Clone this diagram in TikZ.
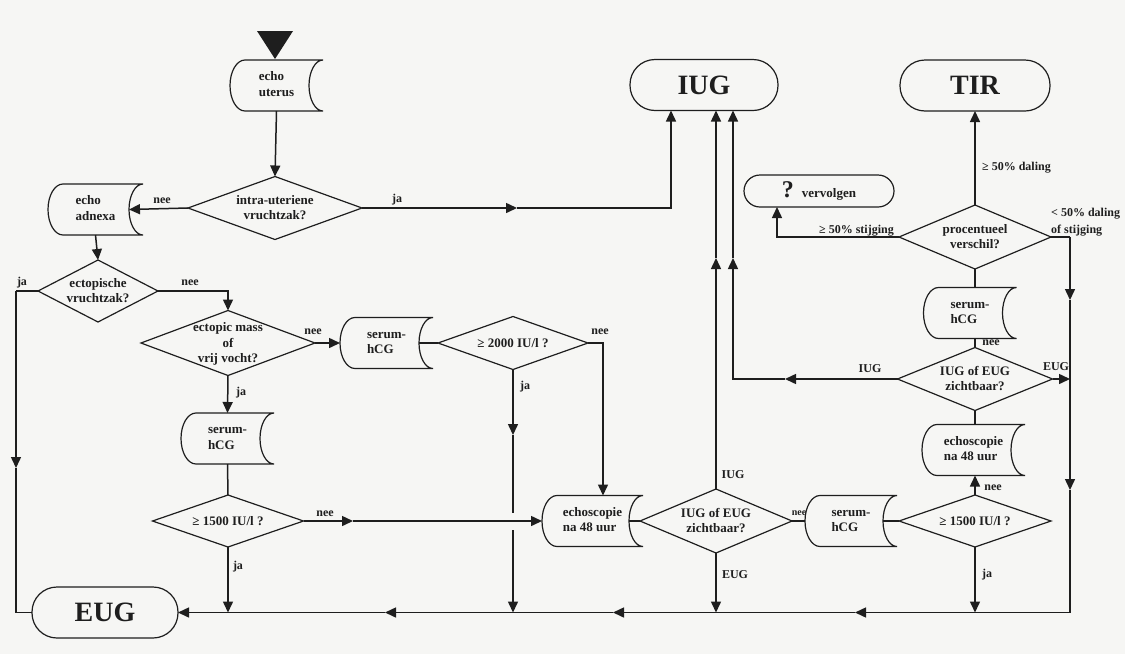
\documentclass[tikz,border=0pt]{standalone}
\usepackage{fontspec}
\setmainfont{Liberation Serif}
\usetikzlibrary{arrows.meta,calc,shapes.geometric}
\definecolor{paper}{RGB}{246,246,244}
\definecolor{ink}{RGB}{30,30,30}
\newcommand\stext[1]{\begin{tabular}{@{}l@{}}#1\end{tabular}\hspace{14pt}}
\newcommand\dtext[1]{\raisebox{-0.3em}[0pt][0pt]{\makebox[0pt]{\begin{tabular}{@{}c@{}}#1\end{tabular}}}}
\newcommand\storeline[1]{\draw[boxline] ([xshift=15pt]#1.north west) arc[start angle=90,end angle=270,x radius=15pt,y radius=25.5pt] -- (#1.south east) arc[start angle=270,end angle=90,x radius=14pt,y radius=25.5pt] -- cycle;}
\tikzset{
  every node/.style={font=\bfseries\fontsize{13}{15.5}\selectfont, text=ink},
  line/.style={line width=1.5pt, draw=ink},
  arr/.style={line, -{Triangle[length=11pt,width=10pt]}},
  boxline/.style={line width=1.2pt, draw=ink},
  store/.style={minimum width=93pt, minimum height=51pt, inner sep=0pt, outer sep=0pt},
  dia/.style={diamond, draw=ink, line width=1.2pt, inner sep=0pt, outer sep=0pt},
  term/.style={draw=ink, line width=1.2pt, rounded corners=25pt, minimum width=148pt, minimum height=51pt, inner sep=0pt, outer sep=0pt, font=\bfseries\fontsize{28}{30}\selectfont},
  lbl/.style={font=\bfseries\fontsize{12}{14}\selectfont, inner sep=0pt}
}
\begin{document}
\begin{tikzpicture}[x=1pt,y=-1pt]
\useasboundingbox (0,0) rectangle (1125,654);
\fill[paper] (0,0) rectangle (1125,654);
% terminals
\node[term] (IUG) at (704,85) {IUG};
\node[term,minimum width=150pt] (TIR) at (975,85.5) {TIR};
\node[term,minimum width=146pt] (EUG) at (105,612.5) {EUG};
\node[term,minimum width=150pt,minimum height=32pt,rounded corners=16pt,font=\bfseries\fontsize{13}{15}\selectfont] (verv) at (819,191) {{\fontsize{24}{24}\selectfont ?}\hspace{8pt}vervolgen};
% store boxes
\node[store] (eu) at (276.5,85.5) {\stext{echo\\uterus}};
\node[store,minimum width=95pt] (ea) at (95.5,209.5) {\stext{echo\\adnexa}};
\node[store] (s1) at (386.5,343) {\stext{serum-\\hCG}};
\node[store] (s2) at (227.5,438.5) {\stext{serum-\\hCG}};
\node[store,minimum width=101pt] (ec1) at (592.5,521) {\stext{echoscopie\\na 48 uur}};
\node[store,minimum width=92pt] (s3) at (851,521) {\stext{serum-\\hCG}};
\node[store,minimum width=103pt] (ec2) at (973.5,450) {\stext{echoscopie\\na 48 uur}};
\node[store] (s4) at (970,313) {\stext{serum-\\hCG}};
\foreach \n in {eu,ea,s1,s2,ec1,s3,ec2,s4}{\storeline{\n}}
% diamonds
\node[dia,minimum width=174pt,minimum height=63pt] (d1) at (275,208) {\dtext{intra-uteriene\\vruchtzak?}};
\node[dia,minimum width=120pt,minimum height=62pt] (d2) at (98,291) {\dtext{ectopische\\vruchtzak?}};
\node[dia,minimum width=174pt,minimum height=65pt] (d3) at (228,343) {\dtext{ectopic mass\\of\\vrij vocht?}};
\node[dia,minimum width=150pt,minimum height=53pt] (d4) at (513,343) {\dtext{≥ 2000 IU/l ?}};
\node[dia,minimum width=151pt,minimum height=52pt] (d5) at (228,521) {\dtext{≥ 1500 IU/l ?}};
\node[dia,minimum width=152pt,minimum height=64pt] (d6) at (716,521) {\dtext{IUG of EUG\\zichtbaar?}};
\node[dia,minimum width=152pt,minimum height=52pt] (d7) at (975,521) {\dtext{≥ 1500 IU/l ?}};
\node[dia,minimum width=155pt,minimum height=63pt] (d8) at (975,379) {\dtext{IUG of EUG\\zichtbaar?}};
\node[dia,minimum width=152pt,minimum height=64pt] (d9) at (975,237) {\dtext{procentueel\\verschil?}};
% start marker
\fill[ink] (257,31) -- (293,31) -- (275,59) -- cycle;
% coordinates
\coordinate (ja1) at (517,208);
\coordinate (jl) at (16,291);
\coordinate (jl2) at (16,468);
\coordinate (n5) at (353,521);
\coordinate (j4a) at (513,435);
\coordinate (j4b) at (513,513);
\coordinate (j4c) at (513,530);
\coordinate (n4) at (603,343);
\coordinate (i6) at (716,258);
\coordinate (i8a) at (785,379);
\coordinate (i8b) at (733,258);
\coordinate (v1) at (777,237);
\coordinate (r1) at (1070,237);
\coordinate (r2) at (1070,300);
\coordinate (r3) at (1070,490);
\coordinate (r4) at (1070,612.5);
\coordinate (b1) at (855,612.5);
\coordinate (b2) at (613,612.5);
\coordinate (b3) at (385,612.5);
% connectors
\draw[arr] (eu.south) -- (d1.north);
\draw[arr] (d1.west) -- ([xshift=-14pt]ea.east);
\draw[arr] (d1.east) -- (ja1);
\draw[arr] (ja1) -| ([xshift=-33pt]IUG.south);
\draw[arr] (ea.south) -- (d2.north);
\draw[line] (d2.west) -- (jl);
\draw[arr] (jl) -- (jl2);
\draw[line] (jl2) |- (EUG.west);
\draw[arr] (d2.east) -| (d3.north);
\draw[arr] (d3.east) -- (s1.west);
\draw[arr] (d3.south) -- (s2.north);
\draw[line] (s2.south) -- (d5.north);
\draw[arr] (d5.east) -- (n5);
\draw[arr] (n5) -- (ec1.west);
\draw[arr] (d5.south) -- (d5.south |- EUG.east);
\draw[line] ([xshift=-14pt]s1.east) -- (d4.west);
\draw[arr] (d4.south) -- (j4a);
\draw[line] (j4a) -- (j4b);
\draw[arr] (j4c) -- (j4c |- EUG.east);
\draw[arr] (d4.east) -- (n4) -- (n4 |- ec1.north);
\draw[line] ([xshift=-14pt]ec1.east) -- (d6.west);
\draw[arr] (d6.north) -- (i6);
\draw[arr] (i6) -- (i6 |- IUG.south);
\draw[arr] (d6.south) -- (d6.south |- EUG.east);
\draw[line] (d6.east) -- (s3.west);
\draw[line] ([xshift=-14pt]s3.east) -- (d7.west);
\draw[arr] (d7.north) -- (d7.north |- ec2.south);
\draw[arr] (d7.south) -- (d7.south |- EUG.east);
\draw[line] (d8.south) -- (d8.south |- ec2.north);
\draw[arr] (d8.east) -- (d8.east -| r1);
\draw[arr] (d8.west) -- (i8a);
\draw[arr] (i8a) -| (i8b);
\draw[arr] (i8b) -- (i8b |- IUG.south);
\draw[line] (d8.north) -- (d8.north |- s4.south);
\draw[line] (d9.south) -- (d9.south |- s4.north);
\draw[arr] (d9.north) -- (TIR.south);
\draw[arr] (d9.west) -- (v1) -- (v1 |- verv.south);
\draw[line] (d9.east) -- (r1);
\draw[arr] (r1) -- (r2);
\draw[arr] (r2) -- (r3);
\draw[line] (r3) -- (r4);
\draw[arr] (r4) -- (b1);
\draw[arr] (b1) -- (b2);
\draw[arr] (b2) -- (b3);
\draw[arr] (b3) -- (EUG.east);
% labels
\node[lbl] (l1) at (162,201) {nee};
\node[lbl] (l2) at (397,200) {ja};
\node[lbl] (l3) at (22,283) {ja};
\node[lbl] (l4) at (190,283) {nee};
\node[lbl] (l5) at (313,332) {nee};
\node[lbl] (l6) at (241,393) {ja};
\node[lbl] (l7) at (325,514) {nee};
\node[lbl] (l8) at (238,567) {ja};
\node[lbl] (l9) at (525,387) {ja};
\node[lbl] (l10) at (600,332) {nee};
\node[lbl] (l11) at (733,475) {IUG};
\node[lbl] (l12) at (735,575) {EUG};
\node[lbl,font=\bfseries\fontsize{10}{12}\selectfont] (l13) at (799,513) {nee};
\node[lbl] (l14) at (993,488) {nee};
\node[lbl] (l15) at (987,575) {ja};
\node[lbl] (l16) at (991,343) {nee};
\node[lbl] (l17) at (1056,367) {EUG};
\node[lbl] (l18) at (870,369) {IUG};
\node[lbl,anchor=west] (l19) at (982,168) {≥ 50\% daling};
\node[lbl,anchor=east] (l20) at (894,231) {≥ 50\% stijging};
\node[lbl,anchor=west] (l21) at (1051,214) {< 50\% daling};
\node[lbl,anchor=west] (l22) at (1051,231) {of stijging};
\end{tikzpicture}
\end{document}
